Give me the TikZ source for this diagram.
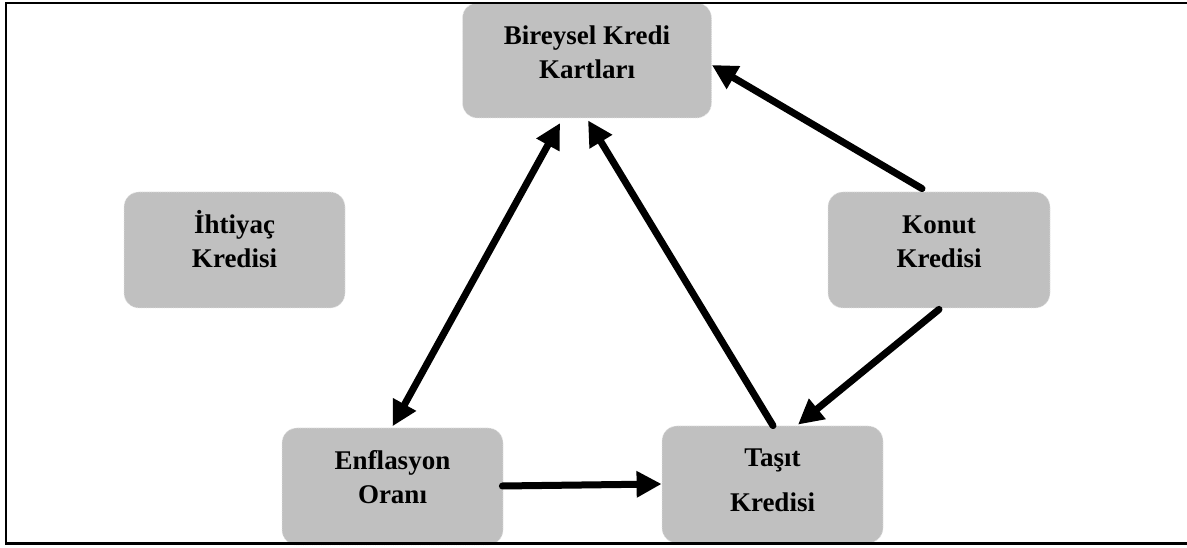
\documentclass[tikz,border=0pt]{standalone}
\usepackage{fontspec}
\setmainfont{Liberation Serif}
\usetikzlibrary{arrows.meta}
\definecolor{boxgray}{HTML}{C0C0C0}
\definecolor{boxedge}{HTML}{E6E6E6}
\newcommand{\bxt}[2]{\raisebox{#1}[\height][\depth]{\begin{tabular}{@{}c@{}}#2\end{tabular}}}
\tikzset{
  kbox/.style={rectangle, rounded corners=15pt, fill=boxgray, draw=boxedge, densely dotted, line width=0.8pt,
    inner sep=0pt, font=\fontsize{27}{34}\selectfont\bfseries, text=black},
  conn/.style={line width=7pt, line cap=round, -{Triangle[length=25pt,width=25pt]}},
  dconn/.style={line width=7pt, {Triangle[length=25pt,width=25pt]}-{Triangle[length=25pt,width=25pt]}},
  frame/.style={line width=2.6pt, black}
}
\begin{document}
\begin{tikzpicture}[x=1pt,y=1pt]
\useasboundingbox (0,0) rectangle (1187,548);
\node[kbox, minimum width=249pt, minimum height=115pt] (B) at (587,487.5) {\bxt{6pt}{Bireysel Kredi\\Kartları}};
\node[kbox, minimum width=221pt, minimum height=116pt] (I) at (234.5,298) {\bxt{6pt}{İhtiyaç\\Kredisi}};
\node[kbox, minimum width=222pt, minimum height=116pt] (K) at (939,298) {\bxt{6.5pt}{Konut\\Kredisi}};
\node[kbox, minimum width=221pt, minimum height=117pt] (E) at (392.5,61.5) {\bxt{6.5pt}{Enflasyon\\Oranı}};
\node[kbox, minimum width=221pt, minimum height=117pt] (T) at (772.5,63.5) {\bxt{2pt}{Taşıt\\[11pt]Kredisi}};

\draw[conn] ([xshift=-17pt,yshift=3pt]K.north) -- ([yshift=-4.5pt]B.east);
\draw[conn] ([yshift=-1pt]K.south) -- ([xshift=25.5pt,yshift=1pt]T.north);
\draw[conn] ([xshift=0.5pt]T.north) -- ([xshift=1pt,yshift=-2pt]B.south);
\draw[dconn] ([xshift=-27pt,yshift=-4.7pt]B.south) -- ([yshift=1.3pt]E.north);
\draw[conn] ([xshift=-1pt,yshift=0.5pt]E.east) -- ([yshift=0.5pt]T.west);

\draw[frame] (1187,545) -- (6,545) -- (6,4.5) -- (1187,4.5);
\end{tikzpicture}
\end{document}
